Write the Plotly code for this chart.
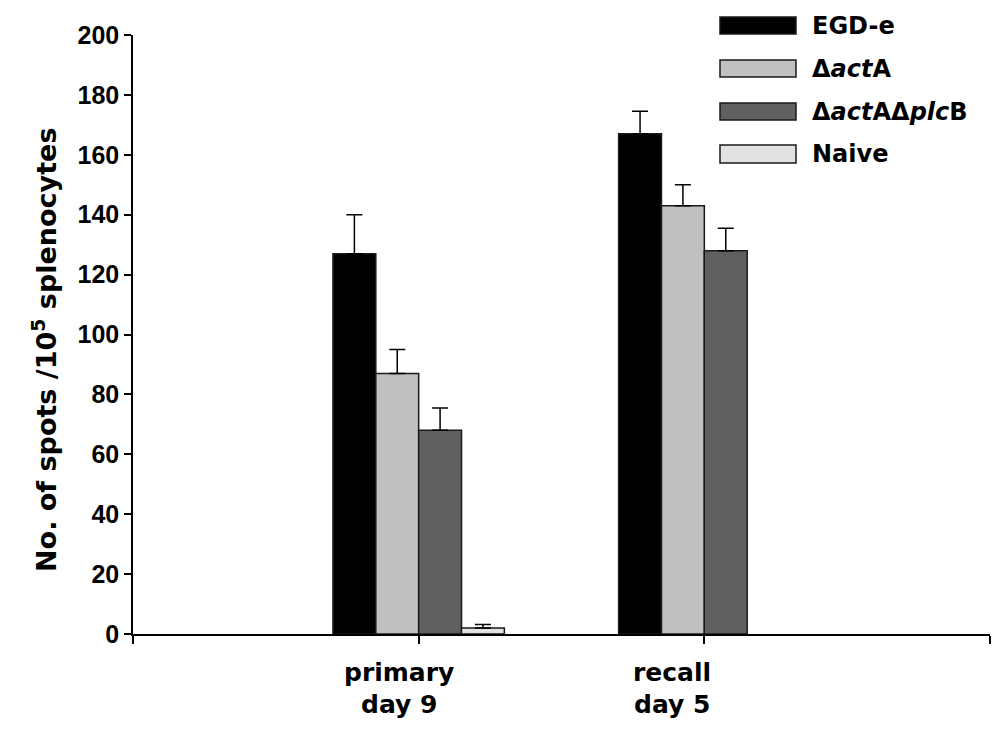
import plotly.graph_objects as go

# ---- data ----
categories = ["primary<br>day 9", "recall<br>day 5"]
cat_lines = [["primary", "day 9"], ["recall", "day 5"]]
cat_positions = [1, 2]
series_names = ["EGD-e", "Δ<i>act</i>A", "Δ<i>act</i>AΔ<i>plc</i>B", "Naive"]
egd_e = [127, 167]
egd_e_err = [13, 7.5]
actA = [87, 143]
actA_err = [8, 7]
actA_plcB = [68, 128]
actA_plcB_err = [7.5, 7.5]
naive = [2, None]
naive_err = [1.2, None]
y_ticks = [0, 20, 40, 60, 80, 100, 120, 140, 160, 180, 200]

values = [egd_e, actA, actA_plcB, naive]
errors = [egd_e_err, actA_err, actA_plcB_err, naive_err]
colors = ["#000000", "#C0C0C0", "#606060", "#E2E2E2"]

FONT = "Liberation Sans, Arial, sans-serif"
WIDE = "DejaVu Sans, Liberation Sans, sans-serif"

# plot area in pixels (for paper-coordinate helpers)
L, R, T, B = 133, 990, 35, 634
W, H = 1000, 729


def px(x):
    return (x - L) / (R - L)


def py(y):
    return (B - y) / (B - T)


fig = go.Figure()
for name, vals, errs, col in zip(series_names, values, errors, colors):
    fig.add_trace(go.Bar(
        x=cat_positions, y=vals, name=name,
        marker=dict(color=col, line=dict(color="#1a1a1a", width=1.5)),
        error_y=dict(type="data", array=[e if e is not None else 0 for e in errs],
                     arrayminus=[0, 0], symmetric=False,
                     color="#000000", thickness=1.5, width=8),
        showlegend=False,
    ))

shapes = []
annotations = []

# custom legend with wide swatches
leg_y = [(17, 34), (60, 77), (103, 120), (145, 163)]
for (y0, y1), name, col in zip(leg_y, series_names, colors):
    shapes.append(dict(type="rect", xref="paper", yref="paper",
                       x0=px(720), x1=px(796), y0=py(y1), y1=py(y0),
                       fillcolor=col, line=dict(color="#1a1a1a", width=1.5)))
    annotations.append(dict(xref="paper", yref="paper", x=px(810), y=py((y0 + y1) / 2),
                            xanchor="left", yanchor="middle", showarrow=False,
                            text=f"<b>{name}</b>",
                            font=dict(family=WIDE, size=24, color="black")))

# category labels (two lines each)
label_x = [399, 672]
for lx, lines in zip(label_x, cat_lines):
    for ly, txt in zip([672, 704], lines):
        annotations.append(dict(xref="paper", yref="paper", x=px(lx), y=py(ly),
                                xanchor="center", yanchor="middle", showarrow=False,
                                text=f"<b>{txt}</b>",
                                font=dict(family=WIDE, size=25, color="black")))

# y-axis title
annotations.append(dict(xref="paper", yref="paper", x=px(44), y=py(350),
                        xanchor="center", yanchor="middle", showarrow=False,
                        textangle=-90,
                        text="<b>No. of spots /10<sup>5</sup> splenocytes</b>",
                        font=dict(family=WIDE, size=27, color="black")))

fig.update_layout(
    width=W, height=H,
    margin=dict(l=L, r=W - R, t=T, b=H - B, pad=0),
    paper_bgcolor="white", plot_bgcolor="white",
    barmode="group", bargap=0.4, bargroupgap=0,
    shapes=shapes, annotations=annotations,
    font=dict(family=FONT, color="black"),
)
fig.update_xaxes(range=[0, 3], tickvals=[0, 1, 2, 3], showticklabels=False,
                 ticks="outside", ticklen=8, tickwidth=1.5, tickcolor="black",
                 showline=True, linecolor="black", linewidth=1.5,
                 showgrid=False, zeroline=False, fixedrange=True)
fig.update_yaxes(range=[0, 200], tickvals=y_ticks,
                 ticktext=[f"<b>{v}</b>" for v in y_ticks],
                 tickfont=dict(family=FONT, size=25, color="black"),
                 ticks="outside", ticklen=7, tickwidth=1.5, tickcolor="black",
                 showline=True, linecolor="black", linewidth=1.5,
                 showgrid=False, zeroline=False, fixedrange=True)

fig.write_html("out.html")
